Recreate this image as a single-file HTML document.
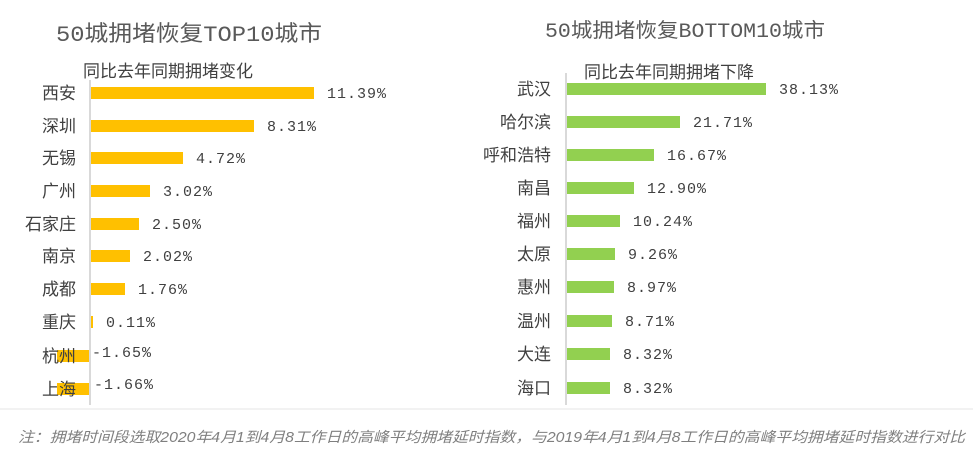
<!DOCTYPE html>
<html><head><meta charset="utf-8"><style>
html,body{margin:0;padding:0;background:#fff;width:973px;height:452px;overflow:hidden}
text{font-family:"Liberation Sans","Noto Sans CJK SC",sans-serif}
.m text{font-family:"Liberation Mono","Noto Sans CJK SC",monospace;font-size:15px;letter-spacing:1px;fill:#404040}
.c text{font-size:17px;fill:#404040}
text.t{font-family:"Liberation Mono","Noto Sans CJK SC",monospace;fill:#595959}
</style></head><body>
<svg width="973" height="452" xmlns="http://www.w3.org/2000/svg">
<text class="t" x="56" y="41" style="font-size:22px" textLength="266" lengthAdjust="spacingAndGlyphs">50城拥堵恢复TOP10城市</text>
<text x="83" y="77" style="font-size:17px;fill:#404040">同比去年同期拥堵变化</text>
<text class="t" x="545" y="37" style="font-size:20px" textLength="280" lengthAdjust="spacingAndGlyphs">50城拥堵恢复BOTTOM10城市</text>
<text x="584" y="78" style="font-size:17px;fill:#404040">同比去年同期拥堵下降</text>
<line x1="90" y1="80" x2="90" y2="405" stroke="#d9d9d9" stroke-width="2"/>
<line x1="566" y1="73" x2="566" y2="405" stroke="#d9d9d9" stroke-width="2"/>
<line x1="0" y1="409" x2="973" y2="409" stroke="#e6e6e6" stroke-width="1"/>
<g fill="#ffc000">
<rect x="91" y="87" width="223" height="12"/>
<rect x="91" y="120" width="163" height="12"/>
<rect x="91" y="152" width="92" height="12"/>
<rect x="91" y="185" width="59" height="12"/>
<rect x="91" y="218" width="48" height="12"/>
<rect x="91" y="250" width="39" height="12"/>
<rect x="91" y="283" width="34" height="12"/>
<rect x="91" y="316" width="2" height="12"/>
<rect x="57" y="350" width="32" height="12"/>
<rect x="57" y="383" width="32" height="12"/>
</g>
<g class="c" text-anchor="end">
<text x="76" y="99">西安</text><text x="76" y="132">深圳</text><text x="76" y="164">无锡</text>
<text x="76" y="197">广州</text><text x="76" y="230">石家庄</text><text x="76" y="262">南京</text>
<text x="76" y="295">成都</text><text x="76" y="328">重庆</text><text x="76" y="362">杭州</text><text x="76" y="395">上海</text>
</g>
<g class="m">
<text x="327" y="98">11.39%</text><text x="267" y="131">8.31%</text><text x="196" y="163">4.72%</text>
<text x="163" y="196">3.02%</text><text x="152" y="229">2.50%</text><text x="143" y="261">2.02%</text>
<text x="138" y="294">1.76%</text><text x="106" y="327">0.11%</text><text x="92" y="357">-1.65%</text><text x="94" y="389">-1.66%</text>
</g>
<g fill="#92d050">
<rect x="567" y="83" width="199" height="12"/>
<rect x="567" y="116" width="113" height="12"/>
<rect x="567" y="149" width="87" height="12"/>
<rect x="567" y="182" width="67" height="12"/>
<rect x="567" y="215" width="53" height="12"/>
<rect x="567" y="248" width="48" height="12"/>
<rect x="567" y="281" width="47" height="12"/>
<rect x="567" y="315" width="45" height="12"/>
<rect x="567" y="348" width="43" height="12"/>
<rect x="567" y="382" width="43" height="12"/>
</g>
<g class="c" text-anchor="end">
<text x="551" y="95">武汉</text><text x="551" y="128">哈尔滨</text><text x="551" y="161">呼和浩特</text>
<text x="551" y="194">南昌</text><text x="551" y="227">福州</text><text x="551" y="260">太原</text>
<text x="551" y="293">惠州</text><text x="551" y="327">温州</text><text x="551" y="360">大连</text><text x="551" y="394">海口</text>
</g>
<g class="m">
<text x="779" y="94">38.13%</text><text x="693" y="127">21.71%</text><text x="667" y="160">16.67%</text>
<text x="647" y="193">12.90%</text><text x="633" y="226">10.24%</text><text x="628" y="259">9.26%</text>
<text x="627" y="292">8.97%</text><text x="625" y="326">8.71%</text><text x="623" y="359">8.32%</text><text x="623" y="393">8.32%</text>
</g>
<text x="18" y="442" style="font-size:14.5px;fill:#7f7f7f;font-style:italic" textLength="947" lengthAdjust="spacingAndGlyphs">注：拥堵时间段选取2020年4月1到4月8工作日的高峰平均拥堵延时指数，与2019年4月1到4月8工作日的高峰平均拥堵延时指数进行对比</text>
</svg>
</body></html>
